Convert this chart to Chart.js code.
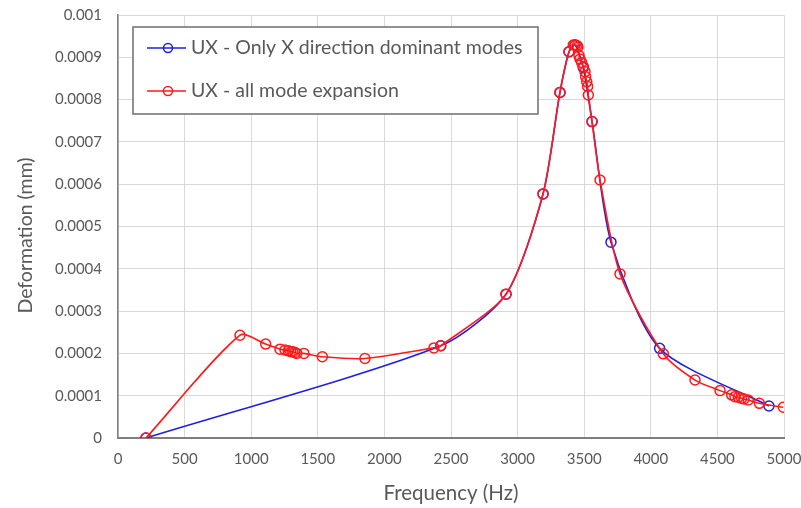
<!DOCTYPE html>
<html>
<head>
<meta charset="utf-8">
<script src="https://cdn.jsdelivr.net/npm/chart.js@4/dist/chart.umd.min.js"></script>
<style>
html,body{margin:0;padding:0;background:#fff;}
#wrap{width:801px;height:508px;}
</style>
</head>
<body>
<div id="wrap"><canvas id="c" width="801" height="508"></canvas></div>
<script>
// Frequency (Hz) and deformation (mm)
const redFreq = [210, 916, 1109, 1216, 1254, 1279, 1297, 1312, 1329, 1342, 1396, 1534, 1854, 2372, 2423, 2913, 3191, 3318, 3386, 3418, 3431, 3446, 3453, 3461, 3468, 3481, 3493, 3506, 3511, 3519, 3526, 3531, 3559, 3619, 3769, 4094, 4332, 4520, 4607, 4632, 4657, 4682, 4700, 4732, 4815, 4995];
const redDef = [0, 0.000243, 0.000222, 0.000210, 0.000208, 0.000206, 0.000204, 0.000204, 0.000202, 0.000200, 0.000200, 0.000192, 0.000188, 0.000213, 0.000218, 0.000340, 0.000577, 0.000817, 0.000913, 0.000929, 0.000929, 0.000928, 0.000924, 0.000904, 0.000896, 0.000888, 0.000878, 0.000866, 0.000854, 0.000842, 0.000831, 0.000811, 0.000748, 0.000610, 0.000388, 0.000199, 0.000137, 0.000112, 0.000102, 0.0000977, 0.0000962, 0.0000938, 0.0000922, 0.0000898, 0.0000820, 0.0000726];
const blueFreq = [210, 2423, 2913, 3191, 3318, 3386, 3431, 3493, 3559, 3701, 4066, 4887];
const blueDef = [0, 0.000218, 0.000340, 0.000577, 0.000817, 0.000913, 0.000929, 0.000876, 0.000748, 0.000463, 0.000212, 0.0000757];
const seriesNames = ["UX - Only X direction dominant modes", "UX - all mode expansion"];
const xTitle = "Frequency (Hz)";
const yTitle = "Deformation (mm)";

const toPts = (xs, ys) => xs.map((x, i) => ({x: x, y: ys[i]}));
const FONT = "Lato, 'Open Sans', sans-serif";
const TXT = "#595959";

const legendBox = {
  id: 'legendBox',
  afterDraw(chart) {
    const ctx = chart.ctx, a = chart.chartArea;
    const x0 = a.left + 15, y0 = a.top + 12, w = 405, h = 87;
    ctx.save();
    ctx.fillStyle = '#fff';
    ctx.fillRect(x0, y0, w, h);
    ctx.strokeStyle = '#6e6e6e';
    ctx.lineWidth = 1.5;
    ctx.strokeRect(x0, y0, w, h);
    chart.data.datasets.forEach((ds, i) => {
      const yy = y0 + 21 + i * 43;
      ctx.strokeStyle = ds.borderColor;
      ctx.lineWidth = 1.5;
      ctx.beginPath(); ctx.moveTo(x0 + 14, yy); ctx.lineTo(x0 + 53, yy); ctx.stroke();
      ctx.beginPath(); ctx.arc(x0 + 35, yy, 4.5, 0, Math.PI * 2); ctx.stroke();
      ctx.fillStyle = TXT;
      ctx.font = "19.5px " + FONT;
      ctx.textBaseline = 'middle';
      ctx.textAlign = 'left';
      ctx.fillText(ds.label, x0 + 58, yy);
    });
    ctx.restore();
  }
};

const axisTitles = {
  id: 'axisTitles',
  afterDraw(chart) {
    const ctx = chart.ctx, a = chart.chartArea;
    ctx.save();
    ctx.fillStyle = TXT;
    ctx.textAlign = 'center';
    ctx.textBaseline = 'middle';
    ctx.font = "20.5px " + FONT;
    ctx.fillText(xTitle, (a.left + a.right) / 2, a.bottom + 55);
    ctx.font = "19.5px " + FONT;
    ctx.translate(26, (a.top + a.bottom) / 2 + 9);
    ctx.rotate(-Math.PI / 2);
    ctx.fillText(yTitle, 0, 0);
    ctx.restore();
  }
};

new Chart(document.getElementById('c'), {
  type: 'scatter',
  data: {
    datasets: [
      {
        label: seriesNames[0],
        data: toPts(blueFreq, blueDef),
        showLine: true,
        borderColor: '#1f1fe0',
        backgroundColor: 'rgba(0,0,0,0)',
        borderWidth: 1.6,
        pointRadius: 5,
        pointBorderWidth: 1.5,
        pointBackgroundColor: 'rgba(0,0,0,0)',
        pointBorderColor: '#1f1fe0',
        tension: 0.25,
        order: 2
      },
      {
        label: seriesNames[1],
        data: toPts(redFreq, redDef),
        showLine: true,
        borderColor: '#ff1a1a',
        backgroundColor: 'rgba(0,0,0,0)',
        borderWidth: 1.6,
        pointRadius: 5,
        pointBorderWidth: 1.5,
        pointBackgroundColor: 'rgba(0,0,0,0)',
        pointBorderColor: '#ff1a1a',
        tension: 0.25,
        order: 1
      }
    ]
  },
  options: {
    responsive: false,
    animation: false,
    devicePixelRatio: 1,
    layout: {padding: {left: 0, right: 0, top: 0, bottom: 0}},
    plugins: {legend: {display: false}, tooltip: {enabled: false}},
    scales: {
      x: {
        type: 'linear', min: 0, max: 5000,
        ticks: {stepSize: 500, color: TXT, font: {family: FONT, size: 15}, padding: 12, maxRotation: 0,
          callback: v => String(v)},
        grid: {color: '#d9d9d9', lineWidth: 1, drawTicks: false},
        border: {color: '#7f7f7f', width: 2},
        afterFit(s) { s.height = 70; s.paddingLeft = 0; s.paddingRight = 17; }
      },
      y: {
        type: 'linear', min: 0, max: 0.001,
        ticks: {stepSize: 0.0001, color: TXT, font: {family: FONT, size: 15}, padding: 16,
          callback: v => String(Number(v.toFixed(4)))},
        grid: {color: '#d9d9d9', lineWidth: 1, drawTicks: false},
        border: {color: '#7f7f7f', width: 1.5},
        afterFit(s) { s.width = 118; s.paddingTop = 15; s.paddingBottom = 0; }
      }
    }
  },
  plugins: [legendBox, axisTitles]
});
</script>
</body>
</html>
